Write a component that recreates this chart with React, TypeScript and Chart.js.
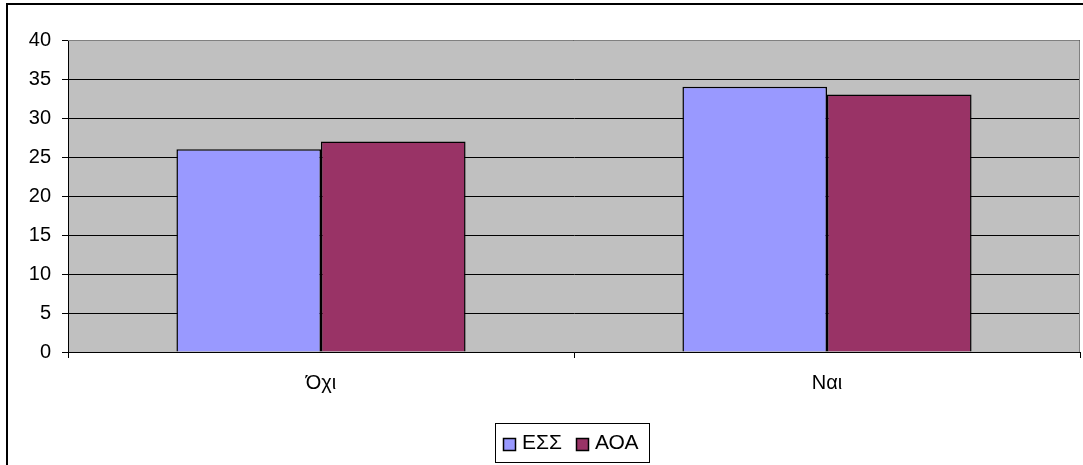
import React, { useEffect, useRef } from "react";
import { Chart, registerables } from "chart.js";

Chart.register(...registerables);

const categories = ["Όχι", "Ναι"];
const seriesNames = ["ΕΣΣ", "ΑΟΑ"];
const essValues = [26, 34];
const aoaValues = [27, 33];
const seriesColors = ["#9999FF", "#993366"];
const yMin = 0;
const yMax = 40;
const yStep = 5;

const FONT = "'Liberation Sans', Arial, sans-serif";
const AXIS_FONT_SIZE = 20;
const LEGEND_FONT_SIZE = 21;

const framePlugin = {
  id: "excelFrame",
  beforeDraw(chart: any) {
    const ctx = chart.ctx;
    const { left, top, right, bottom } = chart.chartArea;
    ctx.save();
    ctx.fillStyle = "#FFFFFF";
    ctx.fillRect(0, 0, chart.width, chart.height);
    ctx.strokeStyle = "#000000";
    ctx.lineWidth = 2;
    ctx.strokeRect(7, 4, chart.width + 10, chart.height + 10);
    ctx.fillStyle = "#C0C0C0";
    ctx.fillRect(left, top, right - left, bottom - top);
    ctx.restore();
  },
  afterDraw(chart: any) {
    const ctx = chart.ctx;
    const { left, top, right, bottom } = chart.chartArea;
    ctx.save();
    ctx.strokeStyle = "#808080";
    ctx.lineWidth = 1;
    ctx.beginPath();
    ctx.moveTo(left, top + 0.5);
    ctx.lineTo(right - 0.5, top + 0.5);
    ctx.lineTo(right - 0.5, bottom);
    ctx.stroke();

    // legend
    ctx.font = `${LEGEND_FONT_SIZE}px ${FONT}`;
    const sq = 12;
    const gapSqText = 7;
    const gapItems = 14;
    const padLeft = 8;
    const padRight = 11;
    const widths = seriesNames.map((n) => ctx.measureText(n).width);
    let total = padLeft + padRight;
    widths.forEach((w, i) => {
      total += sq + gapSqText + w + (i < widths.length - 1 ? gapItems : 0);
    });
    const boxW = Math.round(total);
    const boxH = 39;
    const boxX = 495;
    const boxY = 423;
    ctx.fillStyle = "#FFFFFF";
    ctx.fillRect(boxX, boxY, boxW, boxH);
    ctx.strokeStyle = "#000000";
    ctx.lineWidth = 1;
    ctx.strokeRect(boxX + 0.5, boxY + 0.5, boxW, boxH);
    let x = boxX + padLeft;
    const cy = boxY + boxH / 2 + 1;
    seriesNames.forEach((n, i) => {
      const sx = Math.round(x) + 0.5;
      const sy = Math.round(cy - sq / 2) + 0.5;
      ctx.fillStyle = seriesColors[i];
      ctx.fillRect(sx, sy, sq, sq);
      ctx.strokeStyle = "#000000";
      ctx.lineWidth = 1.5;
      ctx.strokeRect(sx, sy, sq, sq);
      x += sq + gapSqText;
      ctx.fillStyle = "#000000";
      ctx.textBaseline = "middle";
      ctx.textAlign = "left";
      ctx.fillText(n, x, cy);
      x += widths[i] + gapItems;
    });
    ctx.restore();
  },
};

export default function App() {
  const canvasRef = useRef<HTMLCanvasElement | null>(null);

  useEffect(() => {
    document.body.style.margin = "0";
    const canvas = canvasRef.current;
    if (!canvas) return;
    const chart = new Chart(canvas, {
      type: "bar",
      data: {
        labels: categories,
        datasets: [
          {
            label: seriesNames[0],
            data: essValues,
            backgroundColor: seriesColors[0],
            borderColor: "#000000",
            borderWidth: 1.5,
            barPercentage: 1,
            categoryPercentage: 2 / 3.5,
          },
          {
            label: seriesNames[1],
            data: aoaValues,
            backgroundColor: seriesColors[1],
            borderColor: "#000000",
            borderWidth: 1.5,
            barPercentage: 1,
            categoryPercentage: 2 / 3.5,
          },
        ],
      },
      options: {
        responsive: false,
        animation: false,
        devicePixelRatio: 1,
        layout: { padding: { top: 40, right: 3, left: 0, bottom: 0 } },
        plugins: {
          legend: { display: false },
          tooltip: { enabled: false },
          title: { display: false },
        },
        scales: {
          x: {
            offset: true,
            grid: {
              display: true,
              drawOnChartArea: false,
              drawTicks: true,
              tickLength: 6,
              color: "#000000",
              offset: true,
            },
            border: { display: true, color: "#000000", width: 1 },
            ticks: {
              color: "#000000",
              font: { family: FONT, size: AXIS_FONT_SIZE },
              padding: 13,
              maxRotation: 0,
            },
            afterFit(scale: any) {
              scale.height = 113;
            },
          },
          y: {
            min: yMin,
            max: yMax,
            grid: {
              color: "#000000",
              lineWidth: 1,
              drawTicks: true,
              tickLength: 6,
            },
            border: { display: true, color: "#000000", width: 1 },
            ticks: {
              stepSize: yStep,
              color: "#000000",
              font: { family: FONT, size: AXIS_FONT_SIZE },
              padding: 11,
            },
            afterFit(scale: any) {
              scale.width = 68;
            },
          },
        },
      },
      plugins: [framePlugin],
    });
    return () => chart.destroy();
  }, []);

  return (
    <div style={{ width: 1083, height: 465 }}>
      <canvas ref={canvasRef} width={1083} height={465} style={{ display: "block" }} />
    </div>
  );
}
